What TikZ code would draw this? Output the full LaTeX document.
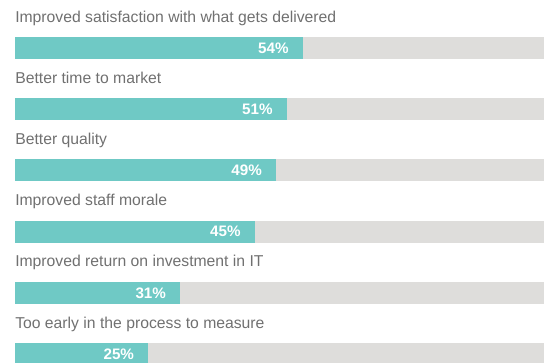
\documentclass[tikz,border=0pt]{standalone}
\usepackage{fontspec}
\setmainfont{Liberation Sans}
\usetikzlibrary{positioning}

\definecolor{barteal}{HTML}{6FC9C5}
\definecolor{bargrey}{HTML}{DEDDDB}
\definecolor{labelgrey}{HTML}{707070}

\tikzset{
    rowlabel/.style={anchor=base west, inner sep=0pt, text=labelgrey,
        font=\fontsize{11.8}{14}\selectfont},
    pctlabel/.style={anchor=base east, inner sep=0pt, text=white,
        font=\bfseries\fontsize{11.4}{13}\selectfont},
}

\begin{document}
\begin{tikzpicture}[x=0.75pt,y=-0.75pt]

    \def\barh{22}
    \def\full{5.33}
    \useasboundingbox (0,0) rectangle (544,362);

    %draw rows:
    \foreach \i/\txt/\pct in {0/Improved satisfaction with what gets delivered/54,
                              1/Better time to market/51,
                              2/Better quality/49,
                              3/Improved staff morale/45,
                              4/Improved return on investment in IT/31,
                              5/Too early in the process to measure/25}{
        \pgfmathsetmacro{\rowy}{37+61.2*\i}
        \pgfmathsetmacro{\barend}{15+\full*\pct}
        \node[rowlabel] (label\i) at (15,\rowy-15) {\txt};
        \coordinate (start\i) at (15,\rowy);
        \coordinate (end\i) at (\barend,\rowy+\barh);
        \fill[bargrey] (start\i) rectangle (544,\rowy+\barh);
        \fill[barteal] (start\i) rectangle (end\i);
        \node[pctlabel] (pct\i) at (\barend-14,\rowy+16.3) {\pct\%};
    }

\end{tikzpicture}
\end{document}
